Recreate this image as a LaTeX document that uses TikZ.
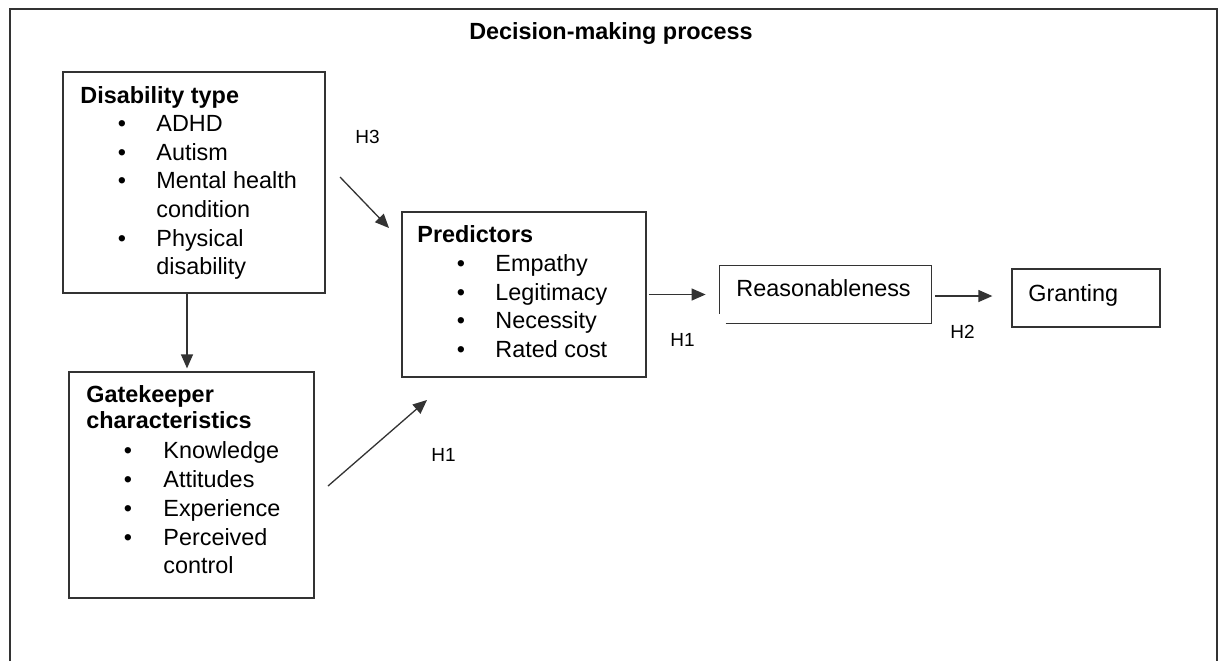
\documentclass[tikz,border=0pt]{standalone}
\usepackage{fontspec}
\setmainfont{Liberation Sans}
\usetikzlibrary{arrows.meta,fit,calc}
\begin{document}
\begin{tikzpicture}[x=0.5pt,y=-0.5pt,
  ink/.style={draw=black!80, line width=0.65pt},
  box/.style={ink, rectangle, inner sep=0pt},
  txt/.style={anchor=base west, inner sep=0pt, font=\fontsize{11.7}{14}\selectfont},
  head/.style={anchor=base west, inner sep=0pt, font=\fontsize{11.7}{14}\selectfont\bfseries},
  bul/.style={anchor=base, inner sep=0pt, font=\fontsize{11.7}{14}\selectfont},
  lab/.style={anchor=base west, inner sep=0pt, font=\fontsize{9.5}{11}\selectfont},
  arr/.style={ink, -{Triangle[length=7pt,width=6pt]}}
]
\useasboundingbox (0,0) rectangle (1221,661);
\fill[white] (0,0) rectangle (1221,661);

% outer frame, open at the bottom
\draw[ink] (10,661) -- (10,9) -- (1217,9) -- (1217,661);
\node[head, anchor=base] (title) at (611,39) {Decision-making process};

% Disability type
\node[box, fit={(63,72)(325,293)}] (dis) {};
\node[head] (dis-h) at (80,103) {Disability type};
\node[bul] (dis-b1) at (122,131.6) {•};
\node[txt] (dis-t1) at (156,131.6) {ADHD};
\node[bul] (dis-b2) at (122,160.2) {•};
\node[txt] (dis-t2) at (156,160.2) {Autism};
\node[bul] (dis-b3) at (122,188.8) {•};
\node[txt] (dis-t3) at (156,188.8) {Mental health};
\node[txt] (dis-t3b) at (156,217.4) {condition};
\node[bul] (dis-b4) at (122,246) {•};
\node[txt] (dis-t4) at (156,246) {Physical};
\node[txt] (dis-t4b) at (156,274.6) {disability};

% Gatekeeper characteristics
\node[box, fit={(69,372)(314,598)}] (gk) {};
\node[head] (gk-h1) at (86,402) {Gatekeeper};
\node[head] (gk-h2) at (86,428) {characteristics};
\node[bul] (gk-b1) at (128,458) {•};
\node[txt] (gk-t1) at (163,458) {Knowledge};
\node[bul] (gk-b2) at (128,487) {•};
\node[txt] (gk-t2) at (163,487) {Attitudes};
\node[bul] (gk-b3) at (128,516) {•};
\node[txt] (gk-t3) at (163,516) {Experience};
\node[bul] (gk-b4) at (128,545) {•};
\node[txt] (gk-t4) at (163,545) {Perceived};
\node[txt] (gk-t4b) at (163,573) {control};

% Predictors
\node[box, fit={(402,212)(646,377)}] (pred) {};
\node[head] (pred-h) at (417,242) {Predictors};
\node[bul] (pred-b1) at (461,271) {•};
\node[txt] (pred-t1) at (495,271) {Empathy};
\node[bul] (pred-b2) at (461,300) {•};
\node[txt] (pred-t2) at (495,300) {Legitimacy};
\node[bul] (pred-b3) at (461,328.5) {•};
\node[txt] (pred-t3) at (495,328.5) {Necessity};
\node[bul] (pred-b4) at (461,357.5) {•};
\node[txt] (pred-t4) at (495,357.5) {Rated cost};

% Reasonableness: its outline leaves a small gap at the lower left corner
\node[rectangle, inner sep=0pt, fit={(720,266)(931,323)}] (rea) {};
\draw[ink] ($(rea.south west)+(6,0)$) -- (rea.south east) -- (rea.north east)
  -- (rea.north west) -- ($(rea.south west)+(0,-9)$);
\node[txt] (rea-t) at (736,296) {Reasonableness};

% Granting
\node[box, fit={(1012,269)(1160,327)}] (gr) {};
\node[txt] (gr-t) at (1028,301) {Granting};

% connectors
\coordinate (dg) at (187,0);
\draw[arr] (dis.south -| dg) -- ($(gk.north -| dg)+(0,-3)$);

\coordinate (h3a) at (340,177);
\coordinate (h3b) at (389,228);
\draw[arr] (h3a) -- (h3b);
\node[lab] (h3) at (355,143) {H3};

\coordinate (h1a) at (328,486);
\coordinate (h1b) at (427,400);
\draw[arr] (h1a) -- (h1b);
\node[lab] (h1low) at (431,461) {H1};

\draw[arr] ($(pred.east |- rea.west)+(2,0)$) -- ($(rea.west)+(-14,0)$);
\node[lab] (h1up) at (670,346) {H1};

\draw[arr] ($(rea.east)+(4,1.5)$) -- ($(gr.west |- rea.east)+(-19,1.5)$);
\node[lab] (h2) at (950,338) {H2};
\end{tikzpicture}
\end{document}
